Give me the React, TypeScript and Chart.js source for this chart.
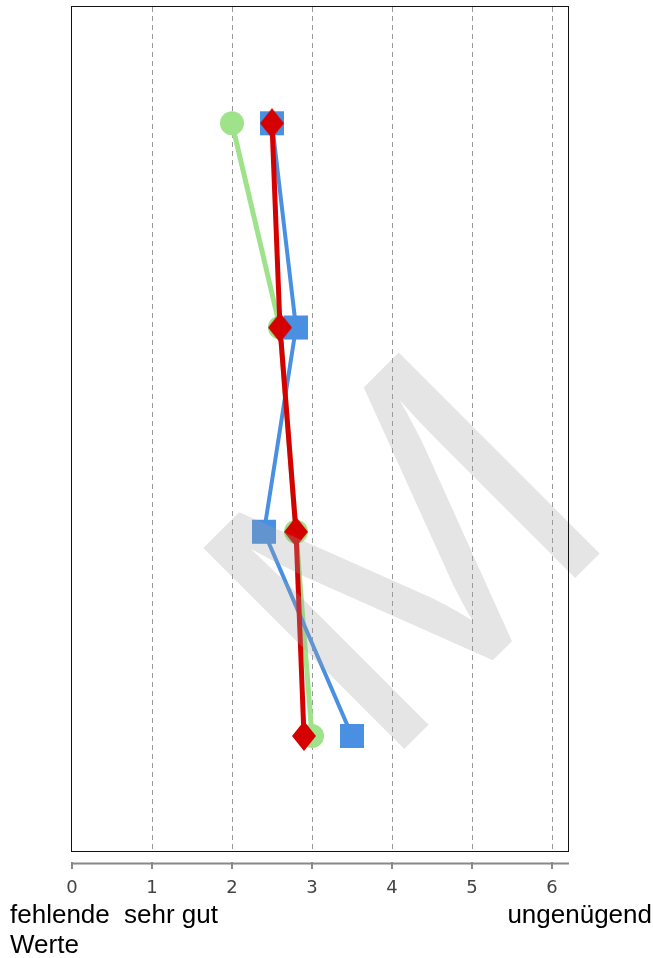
import React, { useEffect, useRef } from 'react';
import { Chart, registerables } from 'chart.js';

Chart.register(...registerables);

// ---- data ----
const rows = [1, 2, 3, 4];
const greenSeries = [2.0, 2.6, 2.8, 3.0];
const blueSeries = [2.5, 2.8, 2.4, 3.5];
const redSeries = [2.5, 2.6, 2.8, 2.9];
const xTickValues = [0, 1, 2, 3, 4, 5, 6];
const xMin = 0;
const xMax = 6.2;
const yMin = 0.4305;
const yMax = 4.568;
const bottomNoteLeft = 'fehlende\nWerte';
const bottomNoteBest = 'sehr gut';
const bottomNoteWorst = 'ungenügend';
const watermarkText = 'M';

const GREEN = '#9ee38a';
const BLUE = '#4a90e2';
const RED = '#d50000';

function makeDiamond(w: number, h: number, color: string) {
  const c = document.createElement('canvas');
  c.width = w;
  c.height = h;
  const g = c.getContext('2d')!;
  g.fillStyle = color;
  g.beginPath();
  g.moveTo(w / 2, 0);
  g.lineTo(w, h / 2);
  g.lineTo(w / 2, h);
  g.lineTo(0, h / 2);
  g.closePath();
  g.fill();
  return c;
}

const decorPlugin = {
  id: 'decor',
  afterDatasetsDraw(chart: any) {
    const { ctx, chartArea } = chart;
    const ca = chartArea;
    ctx.save();
    const cx = ca.left + (ca.right - ca.left) * 0.663;
    const cy = ca.top + (ca.bottom - ca.top) * 0.639;
    ctx.font = '100px "Liberation Sans", Arial, sans-serif';
    const m = ctx.measureText(watermarkText);
    const capH = m.actualBoundingBoxAscent;
    const size = (100 * 285) / capH;
    ctx.font = size + 'px "Liberation Sans", Arial, sans-serif';
    const m2 = ctx.measureText(watermarkText);
    const gl = m2.actualBoundingBoxLeft;
    const gr = m2.actualBoundingBoxRight;
    const ga = m2.actualBoundingBoxAscent;
    ctx.translate(cx, cy);
    ctx.rotate(-Math.PI / 4);
    ctx.textAlign = 'left';
    ctx.textBaseline = 'alphabetic';
    ctx.fillStyle = 'rgba(160,160,160,0.28)';
    ctx.fillText(watermarkText, -(gr - gl) / 2, ga / 2);
    ctx.restore();
  },
  afterDraw(chart: any) {
    const { ctx, chartArea } = chart;
    const ca = chartArea;
    const xs = chart.scales.x;
    ctx.save();
    // frame
    ctx.strokeStyle = '#111';
    ctx.lineWidth = 1;
    ctx.strokeRect(
      Math.round(ca.left) - 0.5,
      Math.round(ca.top) - 0.5,
      Math.round(ca.right - ca.left) + 1,
      Math.round(ca.bottom - ca.top)
    );
    // detached axis line
    const yLine = ca.bottom + 11.5;
    ctx.strokeStyle = '#888';
    ctx.lineWidth = 2;
    ctx.beginPath();
    ctx.moveTo(ca.left - 1, yLine);
    ctx.lineTo(ca.right + 1, yLine);
    ctx.stroke();
    for (const v of xTickValues) {
      const px = Math.round(xs.getPixelForValue(v));
      ctx.beginPath();
      ctx.moveTo(px, yLine - 1.5);
      ctx.lineTo(px, yLine + 5.5);
      ctx.stroke();
    }
    ctx.restore();
  },
};

export default function App() {
  const ref = useRef<HTMLCanvasElement | null>(null);

  useEffect(() => {
    if (!ref.current) return;
    const diamond = makeDiamond(24, 30, RED);
    const toPts = (vals: number[]) => vals.map((v, i) => ({ x: v, y: rows[i] }));
    const chart = new Chart(ref.current, {
      type: 'scatter',
      data: {
        datasets: [
          {
            label: 'red',
            data: toPts(redSeries),
            showLine: true,
            borderColor: RED,
            backgroundColor: RED,
            borderWidth: 5,
            pointStyle: diamond as any,
            pointRadius: 15,
            pointBorderWidth: 0,
            order: 0,
          },
          {
            label: 'blue',
            data: toPts(blueSeries),
            showLine: true,
            borderColor: BLUE,
            backgroundColor: BLUE,
            borderWidth: 4,
            pointStyle: 'rect',
            pointRadius: 17,
            pointBorderWidth: 0,
            order: 1,
          },
          {
            label: 'green',
            data: toPts(greenSeries),
            showLine: true,
            borderColor: GREEN,
            backgroundColor: GREEN,
            borderWidth: 5,
            pointStyle: 'circle',
            pointRadius: 12,
            pointBorderWidth: 0,
            order: 2,
          },
        ],
      },
      options: {
        responsive: false,
        animation: false,
        devicePixelRatio: 1,
        layout: { autoPadding: false, padding: { left: 72, right: 85, top: 7, bottom: 0 } },
        plugins: { legend: { display: false }, tooltip: { enabled: false } },
        scales: {
          x: {
            type: 'linear',
            min: xMin,
            max: xMax,
            afterBuildTicks: (s: any) => {
              s.ticks = xTickValues.map((v) => ({ value: v }));
            },
            afterFit: (s: any) => {
              s.height = 106;
            },
            grid: {
              color: (c: any) => (c.tick && c.tick.value === 0 ? 'rgba(0,0,0,0)' : '#999'),
              lineWidth: 1,
              drawTicks: false,
              drawOnChartArea: true,
            },
            border: { display: false, dash: [5, 4] },
            ticks: {
              padding: 26,
              color: '#444',
              font: { family: '"DejaVu Sans", sans-serif', size: 18 },
              callback: (v: any) => String(v),
            },
          },
          y: {
            type: 'linear',
            reverse: true,
            min: yMin,
            max: yMax,
            display: false,
          },
        },
      },
      plugins: [decorPlugin],
    } as any);
    return () => chart.destroy();
  }, []);

  const noteStyle: React.CSSProperties = {
    position: 'absolute',
    top: 899,
    fontFamily: '"Liberation Sans", Arial, sans-serif',
    fontSize: 26,
    lineHeight: '30px',
    color: '#000',
    whiteSpace: 'pre',
  };

  return (
    <div
      style={{
        position: 'absolute',
        left: 0,
        top: 0,
        width: 653,
        height: 958,
        background: '#fff',
        overflow: 'hidden',
      }}
    >
      <canvas ref={ref} width={653} height={958} style={{ display: 'block' }} />
      <div style={{ ...noteStyle, left: 10 }}>{bottomNoteLeft}</div>
      <div style={{ ...noteStyle, left: 124 }}>{bottomNoteBest}</div>
      <div style={{ ...noteStyle, right: 1 }}>{bottomNoteWorst}</div>
    </div>
  );
}
